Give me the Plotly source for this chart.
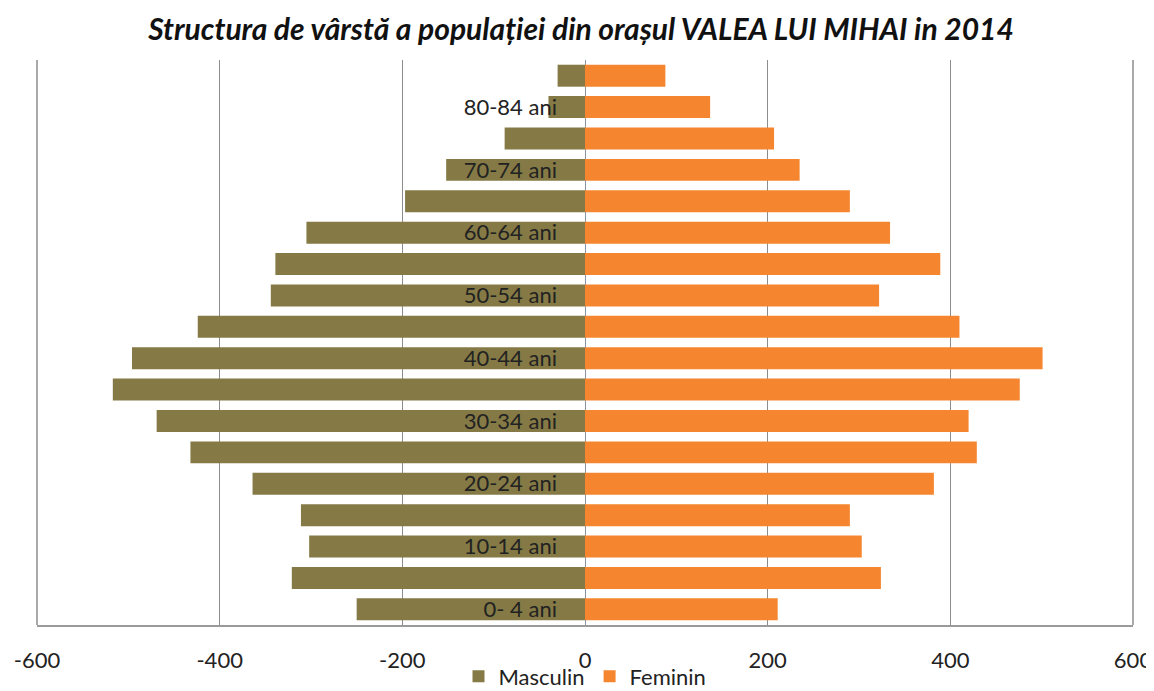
import plotly.graph_objects as go

categories = ["0- 4 ani", "5-9 ani", "10-14 ani", "15-19 ani", "20-24 ani", "25-29 ani",
              "30-34 ani", "35-39 ani", "40-44 ani", "45-49 ani", "50-54 ani", "55-59 ani",
              "60-64 ani", "65-69 ani", "70-74 ani", "75-79 ani", "80-84 ani", "85+ ani"]
masculin = [-250, -321, -302, -311, -364, -432, -469, -517, -496, -424, -344, -339,
            -305, -197, -152, -88, -40, -30]
feminin = [211, 324, 303, 290, 382, 429, 420, 476, 501, 410, 322, 389,
           334, 290, 235, 207, 137, 88]
shown_labels = categories[0::2]
x_ticks = [-600, -400, -200, 0, 200, 400, 600]

fig = go.Figure()
fig.add_trace(go.Bar(y=categories, x=masculin, orientation="h", name="Masculin",
                     marker=dict(color="#857A45", line=dict(width=0))))
fig.add_trace(go.Bar(y=categories, x=feminin, orientation="h", name="Feminin",
                     marker=dict(color="#F5862F", line=dict(width=0))))

fig.update_layout(
    width=1146, height=683,
    margin=dict(l=29, r=21, t=52, b=66, autoexpand=False),
    paper_bgcolor="white", plot_bgcolor="white",
    barmode="relative", bargap=0.3,
    title=dict(text="<b><i>Structura de vârstă a populației din orașul VALEA LUI MIHAI in 2014</i></b>",
               x=0.5, xanchor="center", y=0.968, yanchor="middle",
               font=dict(family="Lato", size=30, color="#111")),
    font=dict(family="Lato", size=22, color="#222"),
    legend=dict(orientation="h", x=0.5, xanchor="center", y=-0.091, yanchor="middle",
                font=dict(size=22, color="#222"), itemwidth=30, traceorder="normal",
                bgcolor="rgba(0,0,0,0)"),
    xaxis=dict(range=[-600, 600], tickvals=x_ticks, ticktext=[str(v) for v in x_ticks],
               showgrid=True, gridcolor="#8c8c8c", gridwidth=1,
               zeroline=True, zerolinecolor="#8a94a6", zerolinewidth=1,
               showline=True, linecolor="#9a9a9a", linewidth=1.5, automargin=False,
               ticks="", ticklabelstandoff=15, tickfont=dict(size=22, color="#222")),
    yaxis=dict(type="category", categoryorder="array", categoryarray=categories,
               tickvals=shown_labels, ticktext=shown_labels, automargin=False,
               anchor="free", position=0.5, showgrid=False, zeroline=False,
               showline=False, ticks="", ticklabelstandoff=28,
               tickfont=dict(size=22, color="#222")),
    shapes=[
        dict(type="line", xref="paper", yref="paper", x0=0, x1=0, y0=0, y1=1,
             line=dict(color="#8c8c8c", width=1.5)),
        dict(type="line", xref="paper", yref="paper", x0=1, x1=1, y0=0, y1=1,
             line=dict(color="#8c8c8c", width=1.5)),
    ],
)
fig.update_xaxes(domain=[0, 1])
fig.write_html("out.html")
